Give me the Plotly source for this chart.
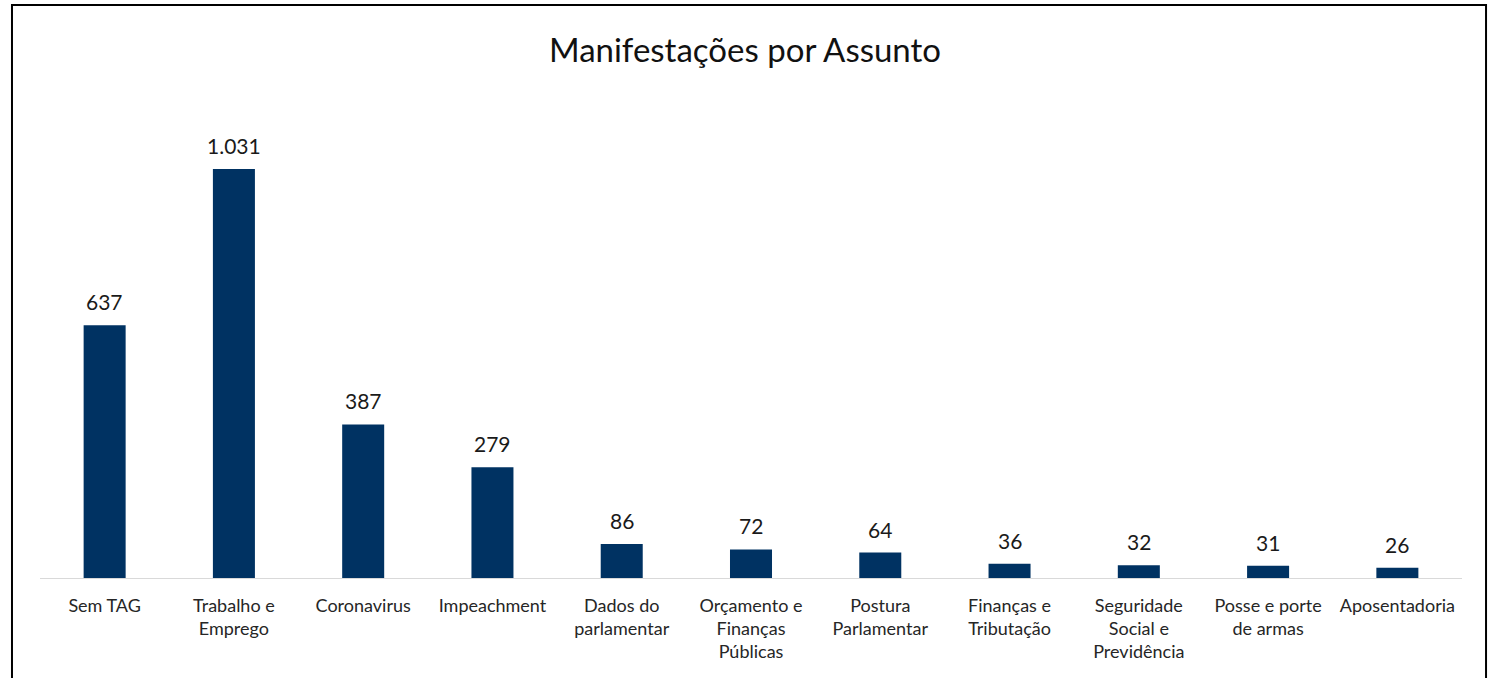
import plotly.graph_objects as go

# dados
assuntos = ["Sem TAG", "Trabalho e<br>Emprego", "Coronavirus", "Impeachment",
            "Dados do<br>parlamentar", "Orçamento e<br>Finanças<br>Públicas",
            "Postura<br>Parlamentar", "Finanças e<br>Tributação",
            "Seguridade<br>Social e<br>Previdência", "Posse e porte<br>de armas",
            "Aposentadoria"]
manifestacoes = [637, 1031, 387, 279, 86, 72, 64, 36, 32, 31, 26]

fonte = "Lato, 'Open Sans', sans-serif"

fig = go.Figure()
fig.add_trace(go.Bar(
    x=assuntos,
    y=manifestacoes,
    marker_color="#003262",
    marker_line_width=0,
    hovertemplate="%{x}: %{y:,}<extra></extra>",
))

# rótulos de valor acima das barras
for a, v in zip(assuntos, manifestacoes):
    fig.add_annotation(x=a, y=v, text=f"{v:,}".replace(",", "."),
                       showarrow=False, yanchor="bottom", yshift=9,
                       font=dict(family=fonte, size=21, color="#1a1a1a"))

fig.update_layout(
    title=dict(text="Manifestações por Assunto", x=0.5, xanchor="center",
               y=0.925, yanchor="middle",
               font=dict(family=fonte, size=33, color="#111111")),
    width=1490, height=678,
    margin=dict(l=40, r=28, t=102, b=100),
    paper_bgcolor="white", plot_bgcolor="white",
    bargap=0.675,
    showlegend=False,
    separators=",.",
    font=dict(family=fonte),
    xaxis=dict(showline=True, linecolor="#d9d9d9", linewidth=1,
               showgrid=False, ticks="", ticklabelstandoff=11, automargin=False,
               tickfont=dict(family=fonte, size=18, color="#262626")),
    yaxis=dict(range=[0, 1200], visible=False, showgrid=False, zeroline=False,
               automargin=False),
)

# moldura do gráfico
fig.add_shape(type="rect", xref="paper", yref="paper",
              x0=-0.0197, x1=1.0169, y0=-0.4, y1=1.2037,
              line=dict(color="black", width=2), layer="above")

# tira a margem padrão do body para o gráfico começar em (0, 0)
fig.write_html("out.html", config={"displayModeBar": False},
               post_script="document.body.style.margin='0';document.body.style.overflow='hidden';")
